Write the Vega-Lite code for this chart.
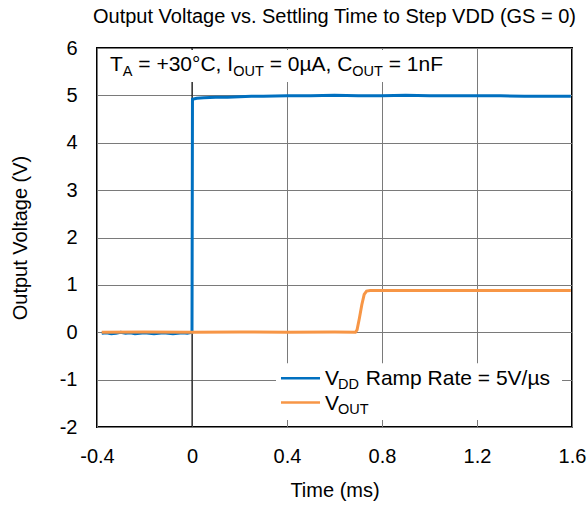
{
  "$schema": "https://vega.github.io/schema/vega-lite/v6.json",
  "width": 475,
  "height": 379,
  "autosize": {"type": "none"},
  "padding": {"left": 97, "top": 48, "right": 15, "bottom": 80},
  "background": "white",
  "config": {
    "font": "Liberation Sans",
    "view": {"stroke": "black", "strokeWidth": 2},
    "axis": {
      "labelFont": "Liberation Sans",
      "titleFont": "Liberation Sans",
      "labelFontSize": 20,
      "titleFontSize": 20,
      "titleFontWeight": "normal",
      "labelColor": "black",
      "titleColor": "black",
      "domain": false,
      "ticks": false,
      "gridColor": "#7a7a7a",
      "gridWidth": 1,
      "gridOpacity": 1
    },
    "text": {"font": "Liberation Sans", "color": "black", "align": "left", "baseline": "alphabetic"}
  },
  "title": {
    "text": "Output Voltage vs. Settling Time to Step VDD (GS = 0)",
    "font": "Liberation Sans",
    "fontSize": 20,
    "fontWeight": "normal",
    "color": "black",
    "anchor": "middle",
    "frame": "group",
    "offset": 11
  },
  "data": {
    "values": [
      {"t": -0.38, "v": -0.02, "s": "VDD"},
      {"t": -0.36, "v": -0.01, "s": "VDD"},
      {"t": -0.34, "v": -0.03, "s": "VDD"},
      {"t": -0.32, "v": -0.02, "s": "VDD"},
      {"t": -0.30, "v": 0.0, "s": "VDD"},
      {"t": -0.28, "v": -0.02, "s": "VDD"},
      {"t": -0.26, "v": -0.01, "s": "VDD"},
      {"t": -0.24, "v": -0.03, "s": "VDD"},
      {"t": -0.22, "v": -0.02, "s": "VDD"},
      {"t": -0.20, "v": -0.01, "s": "VDD"},
      {"t": -0.18, "v": -0.02, "s": "VDD"},
      {"t": -0.16, "v": -0.03, "s": "VDD"},
      {"t": -0.14, "v": -0.02, "s": "VDD"},
      {"t": -0.12, "v": -0.01, "s": "VDD"},
      {"t": -0.10, "v": -0.02, "s": "VDD"},
      {"t": -0.08, "v": -0.03, "s": "VDD"},
      {"t": -0.06, "v": -0.02, "s": "VDD"},
      {"t": -0.04, "v": -0.01, "s": "VDD"},
      {"t": -0.02, "v": -0.02, "s": "VDD"},
      {"t": 0.0, "v": 0.0, "s": "VDD"},
      {"t": 0.002, "v": 4.92, "s": "VDD"},
      {"t": 0.02, "v": 4.94, "s": "VDD"},
      {"t": 0.05, "v": 4.95, "s": "VDD"},
      {"t": 0.10, "v": 4.96, "s": "VDD"},
      {"t": 0.15, "v": 4.96, "s": "VDD"},
      {"t": 0.20, "v": 4.97, "s": "VDD"},
      {"t": 0.25, "v": 4.98, "s": "VDD"},
      {"t": 0.30, "v": 4.98, "s": "VDD"},
      {"t": 0.40, "v": 4.99, "s": "VDD"},
      {"t": 0.50, "v": 4.99, "s": "VDD"},
      {"t": 0.60, "v": 5.0, "s": "VDD"},
      {"t": 0.70, "v": 4.99, "s": "VDD"},
      {"t": 0.80, "v": 4.99, "s": "VDD"},
      {"t": 0.90, "v": 5.0, "s": "VDD"},
      {"t": 1.00, "v": 4.99, "s": "VDD"},
      {"t": 1.10, "v": 4.99, "s": "VDD"},
      {"t": 1.20, "v": 4.99, "s": "VDD"},
      {"t": 1.30, "v": 4.99, "s": "VDD"},
      {"t": 1.40, "v": 4.98, "s": "VDD"},
      {"t": 1.50, "v": 4.98, "s": "VDD"},
      {"t": 1.595, "v": 4.98, "s": "VDD"},
      {"t": -0.38, "v": 0.0, "s": "VOUT"},
      {"t": -0.2, "v": 0.005, "s": "VOUT"},
      {"t": 0.0, "v": 0.0, "s": "VOUT"},
      {"t": 0.2, "v": 0.005, "s": "VOUT"},
      {"t": 0.4, "v": 0.0, "s": "VOUT"},
      {"t": 0.6, "v": 0.005, "s": "VOUT"},
      {"t": 0.688, "v": 0.0, "s": "VOUT"},
      {"t": 0.695, "v": 0.05, "s": "VOUT"},
      {"t": 0.705, "v": 0.3, "s": "VOUT"},
      {"t": 0.715, "v": 0.58, "s": "VOUT"},
      {"t": 0.725, "v": 0.8, "s": "VOUT"},
      {"t": 0.735, "v": 0.87, "s": "VOUT"},
      {"t": 0.75, "v": 0.88, "s": "VOUT"},
      {"t": 0.9, "v": 0.88, "s": "VOUT"},
      {"t": 1.1, "v": 0.88, "s": "VOUT"},
      {"t": 1.3, "v": 0.88, "s": "VOUT"},
      {"t": 1.5, "v": 0.88, "s": "VOUT"},
      {"t": 1.595, "v": 0.88, "s": "VOUT"}
    ]
  },
  "encoding": {
    "x": {
      "field": "t",
      "type": "quantitative",
      "scale": {"domain": [-0.4, 1.6], "nice": false, "zero": false},
      "axis": {
        "values": [-0.4, 0, 0.4, 0.8, 1.2, 1.6],
        "labelExpr": "'' + datum.value",
        "title": "Time (ms)",
        "labelPadding": 19,
        "titlePadding": 14,
        "labelFlush": false
      }
    },
    "y": {
      "field": "v",
      "type": "quantitative",
      "scale": {"domain": [-2, 6], "nice": false, "zero": false},
      "axis": {
        "values": [-2, -1, 0, 1, 2, 3, 4, 5, 6],
        "labelExpr": "'' + datum.value",
        "title": "Output Voltage (V)",
        "labelPadding": 20,
        "titlePadding": 29,
        "labelFlush": false
      }
    }
  },
  "layer": [
    {
      "transform": [{"filter": "datum.t === -0.38 && datum.s === 'VOUT'"}],
      "layer": [
        {
          "mark": {"type": "rule", "color": "black", "strokeWidth": 1},
          "encoding": {"x": {"datum": 0}, "y": null}
        },
        {
          "mark": {"type": "rect", "color": "white"},
          "encoding": {
            "x": {"datum": -0.387},
            "x2": {"datum": 1.086},
            "y": {"datum": 5.96},
            "y2": {"datum": 5.28}
          }
        },
        {
          "mark": {"type": "text", "text": "T", "fontSize": 21},
          "encoding": {"x": {"datum": -0.3453}, "y": {"datum": 5.514}}
        },
        {
          "mark": {"type": "text", "text": "A", "fontSize": 14.5},
          "encoding": {"x": {"datum": -0.2913}, "y": {"datum": 5.409}}
        },
        {
          "mark": {"type": "text", "text": "= +30°C, I", "fontSize": 21},
          "encoding": {"x": {"datum": -0.226}, "y": {"datum": 5.514}}
        },
        {
          "mark": {"type": "text", "text": "OUT", "fontSize": 14.5},
          "encoding": {"x": {"datum": 0.1734}, "y": {"datum": 5.409}}
        },
        {
          "mark": {"type": "text", "text": "= 0µA, C", "fontSize": 21},
          "encoding": {"x": {"datum": 0.3269}, "y": {"datum": 5.514}}
        },
        {
          "mark": {"type": "text", "text": "OUT", "fontSize": 14.5},
          "encoding": {"x": {"datum": 0.6749}, "y": {"datum": 5.409}}
        },
        {
          "mark": {"type": "text", "text": "= 1nF", "fontSize": 21},
          "encoding": {"x": {"datum": 0.8284}, "y": {"datum": 5.514}}
        }
      ]
    },
    {
      "transform": [{"filter": "datum.s === 'VDD'"}],
      "mark": {"type": "line", "strokeWidth": 3, "interpolate": "linear"},
      "encoding": {
        "color": {
          "field": "s",
          "type": "nominal",
          "scale": {"domain": ["VDD", "VOUT"], "range": ["#0070C0", "#F79646"]},
          "legend": null
        }
      }
    },
    {
      "transform": [{"filter": "datum.s === 'VOUT'"}],
      "mark": {"type": "line", "strokeWidth": 3, "interpolate": "linear"},
      "encoding": {
        "color": {"field": "s", "type": "nominal", "legend": null}
      }
    },
    {
      "transform": [{"filter": "datum.t === -0.38 && datum.s === 'VOUT'"}],
      "layer": [
        {
          "mark": {"type": "rect", "color": "white"},
          "encoding": {
            "x": {"datum": 0.3537},
            "x2": {"datum": 1.558},
            "y": {"datum": -0.654},
            "y2": {"datum": -1.852}
          }
        },
        {
          "mark": {"type": "rule", "color": "#0070C0", "strokeWidth": 2.5},
          "encoding": {"x": {"datum": 0.3747}, "x2": {"datum": 0.539}, "y": {"datum": -0.97}}
        },
        {
          "mark": {"type": "rule", "color": "#F79646", "strokeWidth": 2.5},
          "encoding": {"x": {"datum": 0.3747}, "x2": {"datum": 0.539}, "y": {"datum": -1.485}}
        },
        {
          "mark": {"type": "text", "text": "V", "fontSize": 21},
          "encoding": {"x": {"datum": 0.56}, "y": {"datum": -1.114}}
        },
        {
          "mark": {"type": "text", "text": "DD", "fontSize": 14.5},
          "encoding": {"x": {"datum": 0.6147}, "y": {"datum": -1.208}}
        },
        {
          "mark": {"type": "text", "text": "Ramp Rate = 5V/µs", "fontSize": 21},
          "encoding": {"x": {"datum": 0.7316}, "y": {"datum": -1.114}}
        },
        {
          "mark": {"type": "text", "text": "V", "fontSize": 21},
          "encoding": {"x": {"datum": 0.56}, "y": {"datum": -1.641}}
        },
        {
          "mark": {"type": "text", "text": "OUT", "fontSize": 14.5},
          "encoding": {"x": {"datum": 0.6147}, "y": {"datum": -1.736}}
        }
      ]
    }
  ]
}
